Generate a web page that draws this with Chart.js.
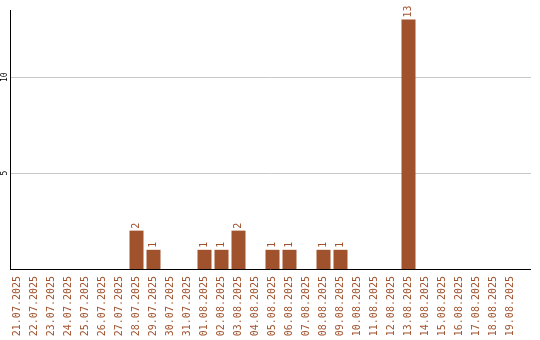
<!DOCTYPE html>
<html>
<head>
<meta charset="utf-8">
<script src="https://cdn.jsdelivr.net/npm/chart.js@4/dist/chart.umd.min.js"></script>
<style>
  html, body { margin: 0; padding: 0; background: #fff; }
  #wrap { width: 540px; height: 340px; position: relative; }
</style>
</head>
<body>
<div id="wrap"><canvas id="c"></canvas></div>
<script>
// daily counts, 21.07.2025 .. 19.08.2025
const days = [
  '21.07.2025', '22.07.2025', '23.07.2025', '24.07.2025', '25.07.2025',
  '26.07.2025', '27.07.2025', '28.07.2025', '29.07.2025', '30.07.2025',
  '31.07.2025', '01.08.2025', '02.08.2025', '03.08.2025', '04.08.2025',
  '05.08.2025', '06.08.2025', '07.08.2025', '08.08.2025', '09.08.2025',
  '10.08.2025', '11.08.2025', '12.08.2025', '13.08.2025', '14.08.2025',
  '15.08.2025', '16.08.2025', '17.08.2025', '18.08.2025', '19.08.2025'
];
const counts = [0, 0, 0, 0, 0, 0, 0, 2, 1, 0, 0, 1, 1, 2, 0, 1, 1, 0, 1, 1, 0, 0, 0, 13, 0, 0, 0, 0, 0, 0];
const yTicks = [5, 10];

const BROWN = '#a0522d';
const MONO = '"DejaVu Sans Mono", monospace';

// оси, сетка и подписи рисуем сами — линии идут дальше области баров
const decor = {
  id: 'decor',
  beforeDatasetsDraw(chart) {
    const { ctx, chartArea } = chart;
    const y = chart.scales.y;
    const right = 531;
    ctx.save();
    ctx.lineWidth = 1;
    ctx.strokeStyle = '#c8c8c8';
    yTicks.forEach((v) => {
      const py = Math.round(y.getPixelForValue(v)) + 0.5;
      ctx.beginPath(); ctx.moveTo(10, py); ctx.lineTo(right, py); ctx.stroke();
    });
    ctx.strokeStyle = '#000';
    ctx.beginPath(); ctx.moveTo(10.5, chartArea.top); ctx.lineTo(10.5, chartArea.bottom + 1); ctx.stroke();
    ctx.beginPath(); ctx.moveTo(10, chartArea.bottom + 0.5); ctx.lineTo(right, chartArea.bottom + 0.5); ctx.stroke();

    ctx.fillStyle = '#000';
    ctx.font = '8px ' + MONO;
    ctx.textAlign = 'center';
    ctx.textBaseline = 'middle';
    yTicks.forEach((v) => {
      ctx.save();
      ctx.translate(5, y.getPixelForValue(v));
      ctx.rotate(-Math.PI / 2);
      ctx.fillText(String(v), 0, 0);
      ctx.restore();
    });
    ctx.restore();
  },
  afterDatasetsDraw(chart) {
    const { ctx } = chart;
    const meta = chart.getDatasetMeta(0);
    ctx.save();
    ctx.fillStyle = BROWN;
    ctx.font = '10px ' + MONO;
    ctx.textAlign = 'left';
    ctx.textBaseline = 'middle';
    meta.data.forEach((bar, i) => {
      if (!counts[i]) return;
      ctx.save();
      ctx.translate(bar.x, bar.y - 2);
      ctx.rotate(-Math.PI / 2);
      ctx.fillText(String(counts[i]), 0, 0);
      ctx.restore();
    });
    ctx.restore();
  }
};

new Chart(document.getElementById('c'), {
  type: 'bar',
  data: {
    labels: days,
    datasets: [{
      data: counts,
      backgroundColor: BROWN,
      borderWidth: 0,
      barPercentage: 14 / 17,
      categoryPercentage: 1
    }]
  },
  options: {
    responsive: true,
    maintainAspectRatio: false,
    animation: false,
    layout: { padding: { left: 0, right: 21, top: 10, bottom: 0 } },
    plugins: { legend: { display: false }, tooltip: { enabled: false } },
    scales: {
      x: {
        offset: true,
        grid: { display: false, drawTicks: false },
        border: { display: false },
        ticks: {
          color: BROWN,
          font: { family: MONO, size: 10 },
          minRotation: 90,
          maxRotation: 90,
          autoSkip: false,
          padding: 7
        },
        afterFit(scale) { scale.height = 71; }
      },
      y: {
        min: 0,
        max: 13.5,
        grid: { display: false },
        border: { display: false },
        ticks: { display: false, stepSize: 5 },
        afterFit(scale) { scale.width = 9; }
      }
    }
  },
  plugins: [decor]
});
</script>
</body>
</html>
